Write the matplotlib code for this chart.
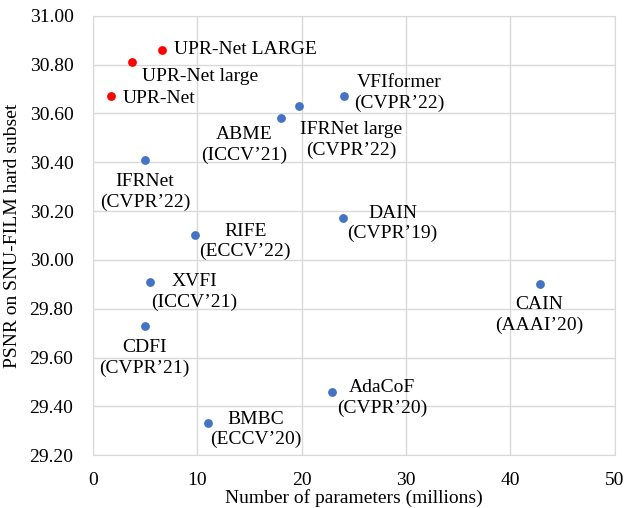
import matplotlib
matplotlib.use('Agg')
import matplotlib.pyplot as plt

plt.rcParams['font.family'] = ['Liberation Serif', 'DejaVu Serif']

# models from other papers
names = ['IFRNet\n(CVPR\u201922)', 'ABME\n(ICCV\u201921)', 'IFRNet large\n(CVPR\u201922)',
         'VFIformer\n(CVPR\u201922)', 'DAIN\n(CVPR\u201919)', 'RIFE\n(ECCV\u201922)',
         'XVFI\n(ICCV\u201921)', 'CDFI\n(CVPR\u201921)', 'CAIN\n(AAAI\u201920)',
         'AdaCoF\n(CVPR\u201920)', 'BMBC\n(ECCV\u201920)']
params = [5.0, 18.0, 19.7, 24.1, 24.0, 9.8, 5.5, 5.0, 42.8, 22.9, 11.0]
psnr = [30.41, 30.58, 30.63, 30.67, 30.17, 30.10, 29.91, 29.73, 29.90, 29.46, 29.33]

# ours
upr_names = ['UPR-Net LARGE', 'UPR-Net large', 'UPR-Net']
upr_params = [6.6, 3.7, 1.7]
upr_psnr = [30.86, 30.81, 30.67]

# label offsets in pixels (dx, dy, ha)
offs = [(0, -32, 'center'), (-37, -27, 'center'), (53, -34, 'center'),
        (55, 3, 'center'), (49, -5, 'center'), (50, -6, 'center'),
        (44, -10, 'center'), (-1, -32, 'center'), (0, -31, 'center'),
        (50, -6, 'center'), (48, -6, 'center')]
upr_offs = [(12, 0, 'left'), (10, -14, 'left'), (12, -2, 'left')]

fs = 14

fig = plt.figure(figsize=(6.28, 5.08), dpi=100)
ax = fig.add_axes([0.148, 0.104, 0.831, 0.865])

ax.scatter(params, psnr, s=40, color='#4472C4', zorder=3, linewidths=0)
ax.scatter(upr_params, upr_psnr, s=40, color='#FF0000', zorder=3, linewidths=0)

for n, x, y, (dx, dy, ha) in zip(names, params, psnr, offs):
    ax.annotate(n, (x, y), xytext=(dx, dy), textcoords='offset pixels',
                ha=ha, va='center', multialignment='center', fontsize=fs, linespacing=1.25)
for n, x, y, (dx, dy, ha) in zip(upr_names, upr_params, upr_psnr, upr_offs):
    ax.annotate(n, (x, y), xytext=(dx, dy), textcoords='offset pixels',
                ha=ha, va='center', fontsize=fs)

ax.set_xlim(0, 50)
ax.set_ylim(29.2, 31.0)
ax.set_xticks([0, 10, 20, 30, 40, 50])
ax.set_yticks([29.2 + 0.2 * i for i in range(10)])
ax.set_yticklabels(['%.2f' % (29.2 + 0.2 * i) for i in range(10)])
ax.tick_params(length=0, labelsize=fs)
ax.tick_params(axis='y', pad=14)
ax.tick_params(axis='x', pad=12)
ax.grid(True, color='#d9d9d9', linewidth=1)
ax.set_axisbelow(True)
for sp in ax.spines.values():
    sp.set_color('#d9d9d9')
ax.set_xlabel('Number of parameters (millions)', fontsize=fs, labelpad=0)
ax.set_ylabel('PSNR on SNU-FILM hard subset', fontsize=fs, labelpad=6)

fig.savefig('out.png', dpi=100)
